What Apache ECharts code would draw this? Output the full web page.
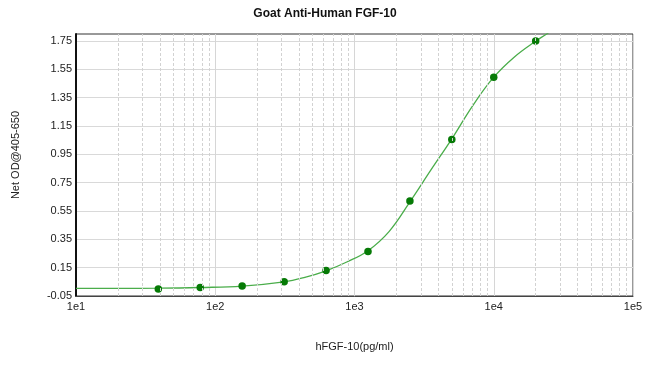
<!DOCTYPE html>
<html>
<head>
<meta charset="utf-8">
<script src="https://cdn.jsdelivr.net/npm/echarts@6/dist/echarts.min.js"></script>
<style>html,body{margin:0;padding:0;background:#fff}#c{width:650px;height:365px}</style>
</head>
<body>
<div id="c"></div>
<script>
// Standard concentrations (pg/ml) and measured Net OD
var concentrations = [39, 78, 156, 312.5, 625, 1250, 2500, 5000, 10000, 20000];
var netOD = [0.0, 0.01, 0.02, 0.05, 0.13, 0.265, 0.62, 1.055, 1.495, 1.75];
// Fitted curve
var curveX = [10, 20, 39, 78, 156, 312.5, 440, 625, 880, 1250, 1770, 2500, 3540, 5000, 7070, 10000, 14140, 20000, 24000, 30000];
var curveY = [0.004, 0.004, 0.005, 0.01, 0.02, 0.05, 0.082, 0.128, 0.19, 0.27, 0.405, 0.615, 0.84, 1.06, 1.295, 1.495, 1.64, 1.75, 1.80, 1.87];
// Tick labels
var yTicks = [-0.05, 0.15, 0.35, 0.55, 0.75, 0.95, 1.15, 1.35, 1.55, 1.75];
var xTicks = [10, 100, 1000, 10000, 100000];

var minorX = [];
for (var d = 0; d < xTicks.length - 1; d++) {
  for (var k = 2; k <= 9; k++) minorX.push({xAxis: k * xTicks[d]});
}

var font = 'Liberation Sans, Arial, sans-serif';
var chart = echarts.init(document.getElementById('c'));
chart.setOption({
  animation: false,
  backgroundColor: '#fff',
  title: {
    text: 'Goat Anti-Human FGF-10',
    left: 'center', top: 3,
    textStyle: {fontFamily: font, fontSize: 12, fontWeight: 'bold', color: '#111'}
  },
  grid: {left: 76, right: 17, top: 34, bottom: 69, show: true, borderColor: '#333', borderWidth: 1, containLabel: false},
  xAxis: {
    type: 'log', logBase: 10, min: 10, max: 100000,
    name: 'hFGF-10(pg/ml)', nameLocation: 'middle', nameGap: 45,
    nameTextStyle: {fontFamily: font, fontSize: 11, color: '#222'},
    axisLine: {show: true, onZero: false, lineStyle: {color: '#444', width: 1}},
    axisTick: {show: false},
    axisLabel: {fontFamily: font, fontSize: 11, color: '#222', margin: 5,
      formatter: function (v) { return '1e' + Math.round(Math.log10(v)); }},
    splitLine: {show: true, lineStyle: {color: '#d6d6d6', width: 1}},
    minorTick: {show: false}
  },
  yAxis: {
    type: 'value', min: -0.05, max: 1.8,
    name: 'Net OD@405-650', nameLocation: 'middle', nameGap: 55,
    nameTextStyle: {fontFamily: font, fontSize: 11, color: '#222', padding: [0, 0, 0, 20]},
    axisLine: {show: true, onZero: false, lineStyle: {color: '#111', width: 2}},
    axisTick: {show: false, customValues: yTicks},
    axisLabel: {fontFamily: font, fontSize: 11, color: '#222', margin: 4, customValues: yTicks,
      padding: [3, 0, 0, 0],
      formatter: function (v) { return v.toFixed(2); }},
    splitLine: {show: true, lineStyle: {color: '#d9d9d9', width: 1}}
  },
  series: [
    {
      type: 'line', data: [], z: 1, silent: true,
      markLine: {
        silent: true, symbol: ['none', 'none'], label: {show: false},
        lineStyle: {color: '#d2d2d2', width: 1, type: [3, 2]},
        data: minorX
      }
    },
    {
      type: 'line', z: 3, smooth: 0.4, showSymbol: false, silent: true,
      lineStyle: {color: '#4aad4a', width: 1.3},
      data: curveX.map(function (x, i) { return [x, curveY[i]]; })
    },
    {
      type: 'scatter', z: 4, symbol: 'circle', symbolSize: 7.5,
      itemStyle: {color: '#067a06', opacity: 1},
      data: concentrations.map(function (x, i) { return [x, netOD[i]]; })
    }
  ]
});
</script>
</body>
</html>
